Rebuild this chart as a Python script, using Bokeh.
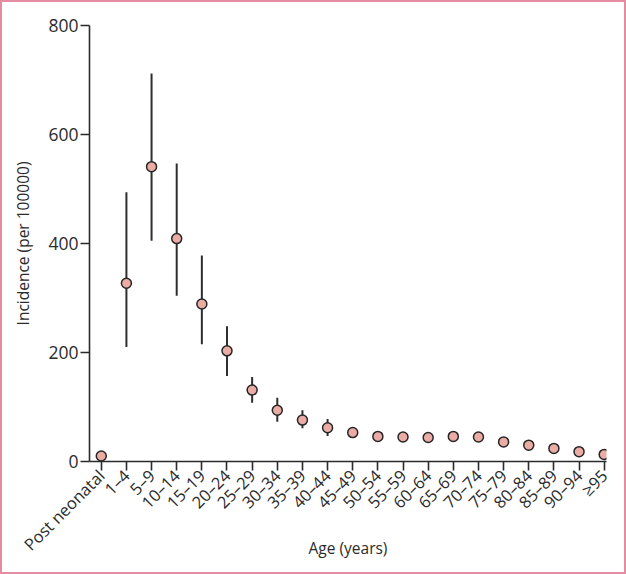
import math
from bokeh.plotting import figure
from bokeh.models import Range1d, FixedTicker, ColumnDataSource
from bokeh.embed import file_html
from bokeh.resources import INLINE

age_groups = ["Post neonatal", "1–4", "5–9", "10–14", "15–19", "20–24", "25–29",
              "30–34", "35–39", "40–44", "45–49", "50–54", "55–59", "60–64",
              "65–69", "70–74", "75–79", "80–84", "85–89", "90–94", "≥95"]
incidence = [10, 327, 541, 409, 289, 203, 131, 94, 76, 62, 53, 46, 45, 44, 46, 45, 36, 30, 24, 18, 13]
lower = [8, 210, 405, 304, 215, 157, 108, 73, 61, 47, 43, 42, 42, 41, 42, 42, 34, 28, 22, 16, 11]
upper = [12, 494, 712, 547, 378, 248, 155, 117, 94, 78, 62, 50, 49, 48, 51, 49, 39, 32, 26, 20, 15]
y_ticks = [0, 200, 400, 600, 800]

xs = list(range(len(age_groups)))
src = ColumnDataSource(dict(x=xs, y=incidence, lo=lower, hi=upper))

FONT = "Open Sans"
TXT = "#2b2b2b"

p = figure(width=626, height=574, output_backend="svg", toolbar_location=None,
           x_range=Range1d(-0.468, 20.092), y_range=Range1d(0, 800),
           min_border_left=87, min_border_right=22, min_border_top=23, min_border_bottom=115)
p.outline_line_color = None
p.grid.visible = False
p.background_fill_color = "white"
p.border_fill_color = "white"
p.styles = {"border": "2px solid #e38ca2"}

p.segment(x0="x", y0="lo", x1="x", y1="hi", source=src, line_color="#2e2e2e", line_width=2)
p.scatter(x="x", y="y", source=src, size=10, fill_color="#eaaca4",
          line_color="#262626", line_width=1.5)

for ax in (p.xaxis[0], p.yaxis[0]):
    ax.axis_line_color = TXT
    ax.axis_line_width = 1.6
    ax.major_tick_line_color = TXT
    ax.major_tick_line_width = 1.6
    ax.major_tick_in = 0
    ax.major_tick_out = 9
    ax.minor_tick_line_color = None
    ax.major_label_text_font = FONT
    ax.major_label_text_color = TXT
    ax.axis_label_text_font = FONT
    ax.axis_label_text_color = TXT
    ax.axis_label_text_font_style = "normal"
    ax.major_label_standoff = 2

p.yaxis.ticker = FixedTicker(ticks=y_ticks)
p.yaxis.major_label_text_font_size = "17.5px"
p.yaxis.axis_label = "Incidence (per 100000)"
p.yaxis.axis_label_text_font_size = "15.5px"
p.yaxis.axis_label_standoff = 11

p.xaxis.ticker = FixedTicker(ticks=xs)
p.xaxis.major_label_overrides = {i: lab for i, lab in enumerate(age_groups)}
p.xaxis.major_label_orientation = math.pi / 4
p.xaxis.major_label_text_font_size = "16.5px"
p.xaxis.axis_label = "Age (years)"
p.xaxis.axis_label_text_font_size = "15.5px"
p.xaxis.axis_label_standoff = -30

open("out.html", "w").write(file_html(p, INLINE))
